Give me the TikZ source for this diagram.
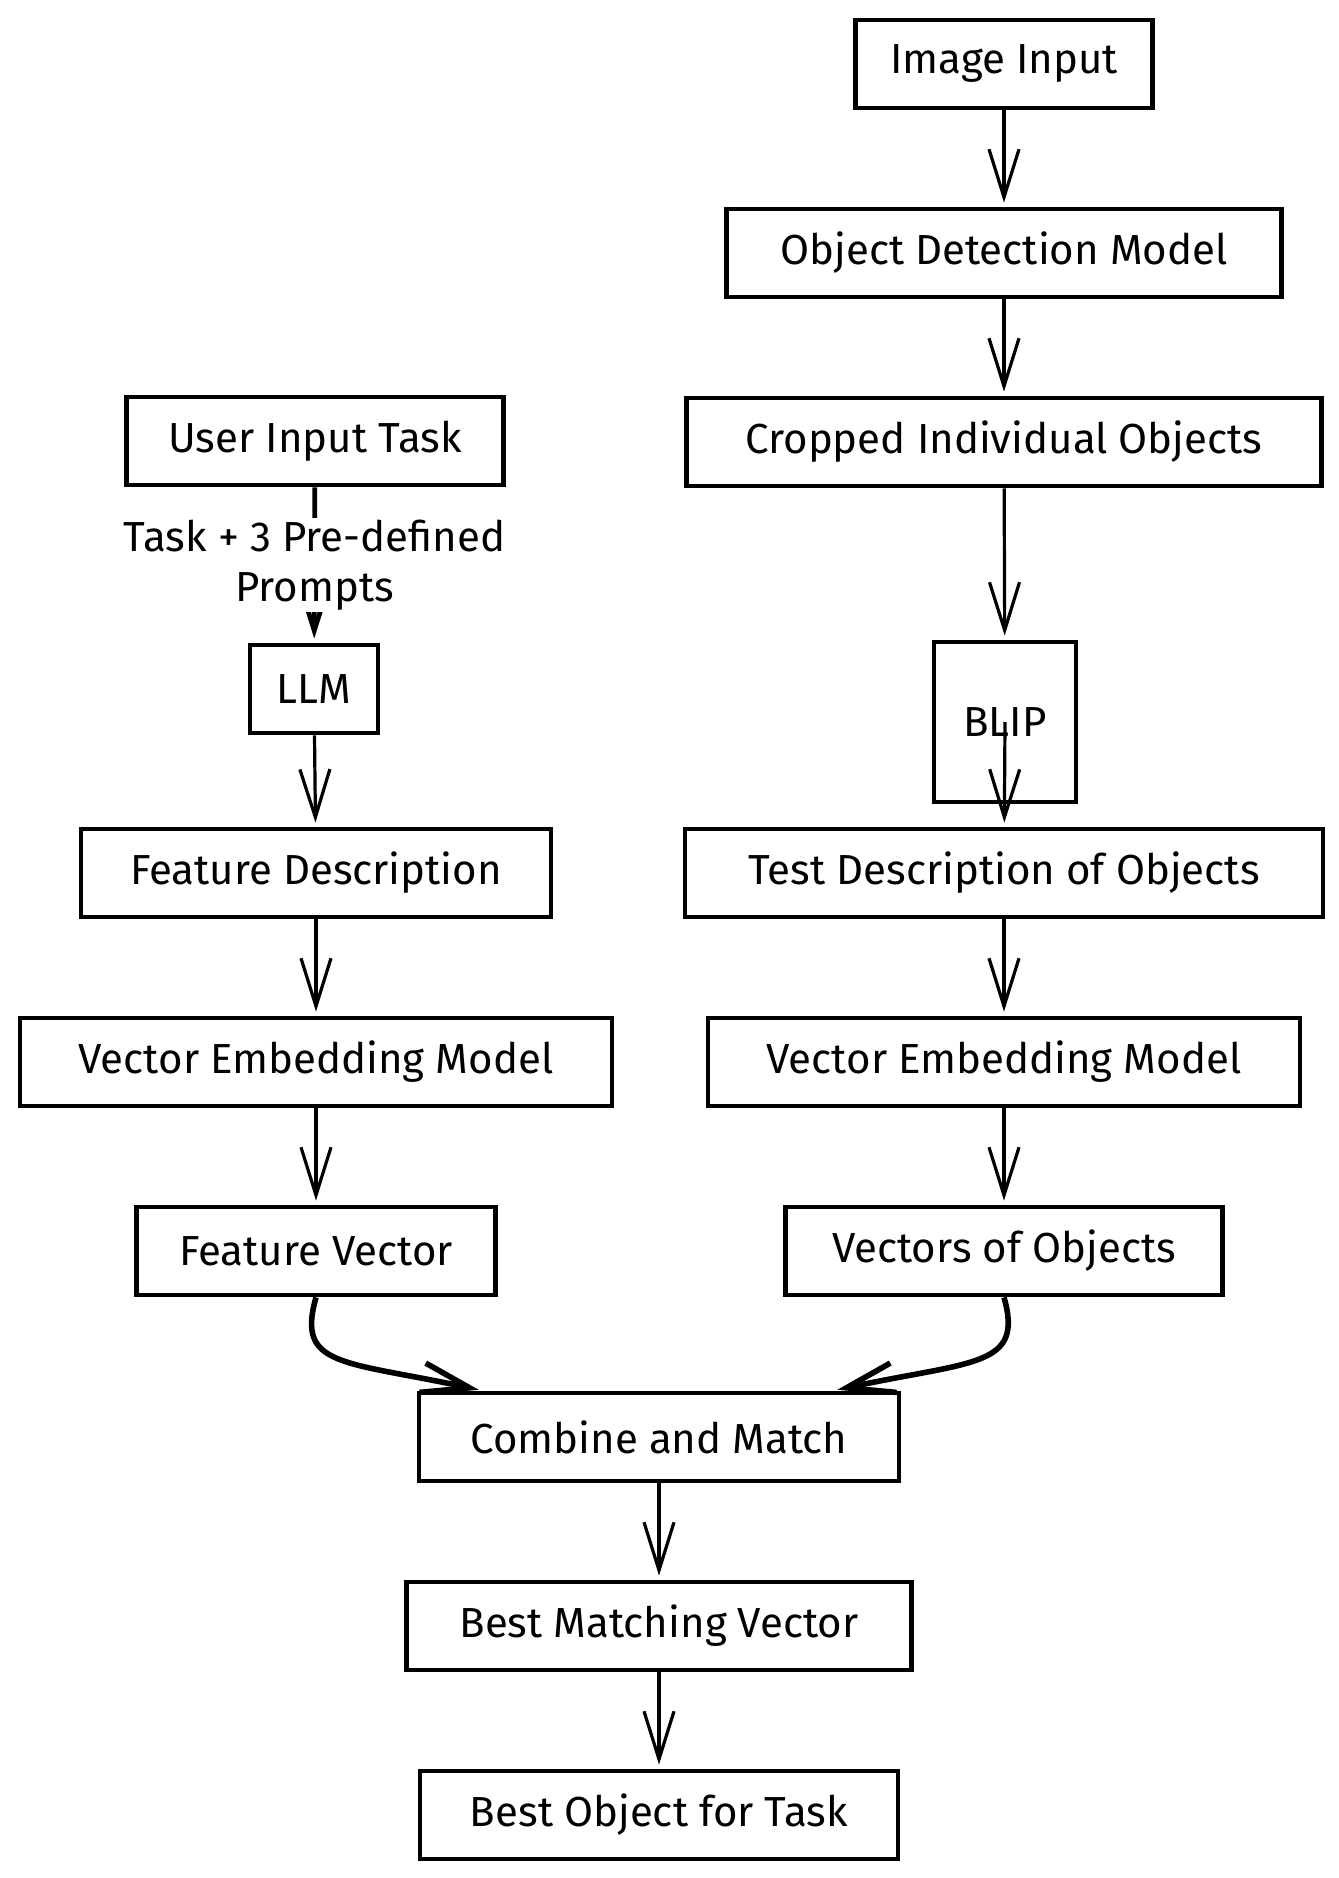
\documentclass[tikz,border=0pt]{standalone}
\usepackage{fontspec}
\setmainfont{Fira Sans}
\usetikzlibrary{arrows.meta}

\begin{document}
\begin{tikzpicture}[x=0.5pt,y=-0.5pt,node distance=94.5pt,
 thick,main node/.style={rectangle,draw,line width=2.4pt,minimum height=44pt,inner sep=0pt,font=\fontsize{21}{25}\selectfont},
 flow/.style={line width=1.6pt,-{Straight Barb[length=24pt,width=15pt]},shorten >=2pt},
 bend flow/.style={flow,line width=2.8pt}]

  \fill[white] (0,0) rectangle (1338,1878);

  % right column
  \node[main node,minimum width=148.5pt] (1) at (1004,64) {Image Input};
  \node[main node,minimum width=277.5pt] (2) [below of=1] {Object Detection Model};
  \node[main node,minimum width=317.5pt] (3) [below of=2] {Cropped Individual Objects};
  \node[main node,minimum width=71pt,minimum height=80pt] (4) at (1005,722) {BLIP};
  \node[main node,minimum width=319pt] (5) at (1004,873) {Test Description of Objects};
  \node[main node,minimum width=296pt] (6) [below of=5] {Vector Embedding Model};
  \node[main node,minimum width=218.5pt] (7) [below of=6] {Vectors of Objects};

  % left column
  \node[main node,minimum width=188.5pt] (8) at (315,441) {User Input Task};
  \node[main node,minimum width=64pt] (9) at (314,689) {LLM};
  \node[main node,minimum width=235pt] (10) at (316,873) {Feature Description};
  \node[main node,minimum width=296pt] (11) [below of=10] {Vector Embedding Model};
  \node[main node,minimum width=179.5pt] (12) [below of=11] {Feature Vector};

  % bottom
  \node[main node,minimum width=240pt] (13) at (659,1437) {Combine and Match};
  \node[main node,minimum width=252.5pt] (14) [below of=13] {Best Matching Vector};
  \node[main node,minimum width=239pt] (15) [below of=14] {Best Object for Task};

  \foreach \s/\t in {1/2, 2/3, 3/4, 5/6, 6/7, 9/10, 10/11, 11/12, 13/14, 14/15} {
   \path[draw] (\s) edge[flow] (\t);}
  \path (4.center) edge[flow] (5);
  \path (8) edge[flow,line width=2.4pt] node[fill=white,align=center,inner sep=1pt,font=\fontsize{21}{25}\selectfont] {Task + 3 Pre-defined\\Prompts} (9);

  \draw[bend flow] (12.south) .. controls +(-20,70) and +(-140,-30) .. ([xshift=33pt]13.north west);
  \draw[bend flow] (7.south) .. controls +(20,70) and +(140,-30) .. ([xshift=-34pt]13.north east);
\end{tikzpicture}
\end{document}
